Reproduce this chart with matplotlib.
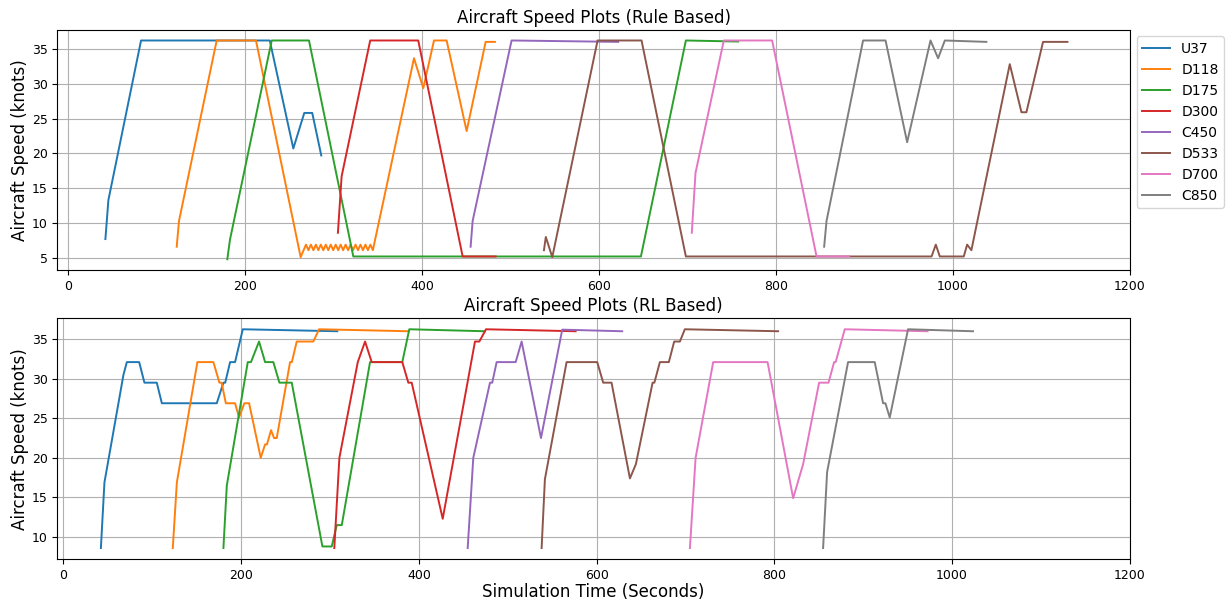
import matplotlib
matplotlib.use("Agg")
import matplotlib.pyplot as plt

labels = ["U37", "D118", "D175", "D300", "C450", "D533", "D700", "C850"]

# ---- Rule based speed profiles (time in s, speed in knots) ----
rule_t_u37 = [42.2, 45.6, 82.5, 228, 254.6, 267, 276, 286.2]
rule_v_u37 = [7.7, 13.3, 36.2, 36.2, 20.7, 25.8, 25.8, 19.7]

rule_t_d118 = [122.8, 125.4, 168, 212.4, 262.9,
               268.9, 271.7, 274.5, 277.3, 280.1, 282.9, 285.7, 288.5, 291.3, 294.1,
               296.9, 299.7, 302.5, 305.3, 308.1, 310.9, 313.7, 316.5, 319.3, 322.1,
               324.9, 327.7, 330.5, 333.3, 336.1, 338.9, 341.7, 344.5,
               391, 401.5, 413.6, 427.9, 450.5, 472, 482.5]
rule_v_d118 = [6.6, 10.3, 36.2, 36.2, 5.1,
               6.9, 6.1, 6.9, 6.1, 6.9, 6.1, 6.9, 6.1, 6.9, 6.1,
               6.9, 6.1, 6.9, 6.1, 6.9, 6.1, 6.9, 6.1, 6.9, 6.1,
               6.9, 6.1, 6.9, 6.1, 6.9, 6.1, 6.9, 6.1,
               33.65, 29.35, 36.2, 36.2, 23.2, 36.0, 36.0]

rule_t_d175 = [180, 183, 230.2, 272.3, 322.4, 647.5, 698.3, 757.4]
rule_v_d175 = [4.8, 7.6, 36.2, 36.2, 5.2, 5.2, 36.2, 36.05]

rule_t_d300 = [305, 309.2, 341.5, 395.8, 446, 483.3]
rule_v_d300 = [8.6, 16.7, 36.2, 36.2, 5.2, 5.2]

rule_t_c450 = [455, 457.3, 501.3, 621.8]
rule_v_c450 = [6.6, 10.3, 36.2, 36.0]

rule_t_d533 = [537.9, 540, 547.3, 598.5, 648.2, 698.3, 976, 980.8, 985.3,
               1012.4, 1016.2, 1021, 1064.4, 1077.6, 1083.2, 1102, 1129.6]
rule_v_d533 = [6.1, 8.0, 5.1, 36.2, 36.2, 5.2, 5.2, 6.9, 5.2,
               5.2, 6.9, 6.1, 32.8, 25.9, 25.9, 36.0, 36.0]

rule_t_d700 = [705, 709.2, 741.2, 795.8, 846, 882.8]
rule_v_d700 = [8.6, 17.2, 36.2, 36.2, 5.2, 5.2]

rule_t_c850 = [854.6, 857.3, 898.6, 924, 948.4, 974.8, 983.4, 991, 1038]
rule_v_c850 = [6.6, 10.3, 36.2, 36.2, 21.6, 36.2, 33.65, 36.2, 36.0]

# ---- RL based speed profiles ----
rl_t_u37 = [42.1, 46.1, 67.5, 71.3, 85.2, 91.1, 105, 110.7, 172.5, 180, 182,
            187.5, 193.1, 201.8, 308.2]
rl_v_u37 = [8.6, 16.9, 30.5, 32.1, 32.1, 29.5, 29.5, 26.9, 26.9, 29.5, 29.5,
            32.1, 32.1, 36.25, 36.0]

rl_t_d118 = [123, 127.6, 150.7, 168.7, 175.5, 178, 182.7, 193.1, 197.6, 203.6,
             208.9, 222, 226.9, 229, 233.6, 237, 240, 255, 257, 262.5, 281.2,
             287.6, 388.8]
rl_v_d118 = [8.6, 16.9, 32.1, 32.1, 29.5, 29.5, 26.9, 26.9, 25.1, 26.9,
             26.9, 20.0, 21.7, 21.7, 23.5, 22.5, 22.5, 32.1, 32.1, 34.7, 34.7,
             36.25, 36.0]

rl_t_d175 = [180, 183.8, 207.4, 211, 220.1, 226.9, 236.2, 243, 256.9, 291.4,
             301.9, 307.5, 313.2, 345, 381.3, 389.2, 474.4]
rl_v_d175 = [8.6, 16.5, 32.1, 32.1, 34.7, 32.1, 32.1, 29.5, 29.5, 8.8,
             8.8, 11.5, 11.5, 32.1, 32.1, 36.25, 36.0]

rl_t_d300 = [304.8, 310.5, 331.2, 339.4, 346.9, 381.3, 388.1, 391.9, 426.8,
             463.1, 468, 475.5, 576.4]
rl_v_d300 = [8.6, 20.0, 32.1, 34.7, 32.1, 32.1, 29.5, 29.5, 12.3,
             34.7, 34.7, 36.25, 36.0]

rl_t_c450 = [454.9, 461.2, 480, 482.5, 487.5, 508.9, 515.6, 537.4, 561.3, 628.8]
rl_v_c450 = [8.6, 20.0, 29.5, 29.5, 32.1, 32.1, 34.7, 22.5, 36.2, 36.0]

rl_t_d533 = [538.1, 541.8, 566.2, 600.7, 607.4, 616.8, 637.5, 644.2, 663, 665,
             671.2, 681.3, 687.3, 693.7, 699.3, 804.3]
rl_v_d533 = [8.6, 17.3, 32.1, 32.1, 29.5, 29.5, 17.4, 19.2, 29.5, 29.5,
             32.1, 32.1, 34.7, 34.7, 36.25, 36.0]

rl_t_d700 = [705, 711.4, 731.2, 792.4, 821.2, 832.4, 850.4, 861, 867.3, 869,
             879.3, 972.4]
rl_v_d700 = [8.6, 20.0, 32.1, 32.1, 14.9, 19.2, 29.5, 29.5, 32.1, 32.1,
             36.25, 36.0]

rl_t_c850 = [854.9, 859.4, 883, 913, 922.4, 925, 929.9, 950.5, 1023.6]
rl_v_c850 = [8.6, 18.2, 32.1, 32.1, 26.9, 26.9, 25.1, 36.25, 36.0]

rule_series = [(rule_t_u37, rule_v_u37), (rule_t_d118, rule_v_d118),
               (rule_t_d175, rule_v_d175), (rule_t_d300, rule_v_d300),
               (rule_t_c450, rule_v_c450), (rule_t_d533, rule_v_d533),
               (rule_t_d700, rule_v_d700), (rule_t_c850, rule_v_c850)]
rl_series = [(rl_t_u37, rl_v_u37), (rl_t_d118, rl_v_d118),
             (rl_t_d175, rl_v_d175), (rl_t_d300, rl_v_d300),
             (rl_t_c450, rl_v_c450), (rl_t_d533, rl_v_d533),
             (rl_t_d700, rl_v_d700), (rl_t_c850, rl_v_c850)]

fig, (ax1, ax2) = plt.subplots(2, 1, figsize=(12.32, 6.03), dpi=100)
fig.subplots_adjust(left=0.0465, right=0.917, top=0.951, bottom=0.073, hspace=0.2)

for (t, v), lab in zip(rule_series, labels):
    ax1.plot(t, v, label=lab, linewidth=1.4)
for (t, v), lab in zip(rl_series, labels):
    ax2.plot(t, v, label=lab, linewidth=1.4)

ax1.set_title("Aircraft Speed Plots (Rule Based)", fontsize=12, pad=5)
ax2.set_title("Aircraft Speed Plots (RL Based)", fontsize=12, pad=5)
ax1.set_ylabel("Aircraft Speed (knots)", fontsize=12, labelpad=2)
ax2.set_ylabel("Aircraft Speed (knots)", fontsize=12, labelpad=2)
ax2.set_xlabel("Simulation Time (Seconds)", fontsize=12, labelpad=1)

for ax in (ax1, ax2):
    ax.grid(True)
    ax.set_xlim(right=1200)
    ax.tick_params(labelsize=9)

ax1.legend(loc="upper left", bbox_to_anchor=(1.0, 1.0), fontsize=10)

fig.savefig("out.png", dpi=100)
